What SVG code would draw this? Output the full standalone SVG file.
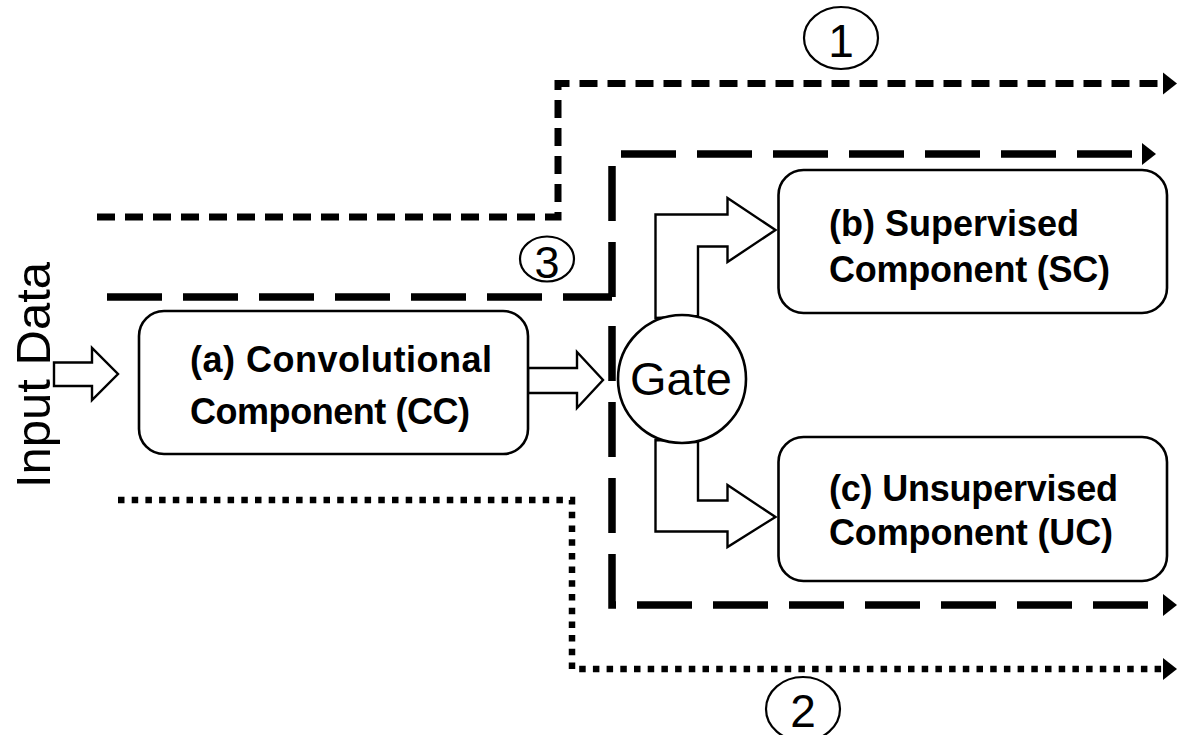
<svg xmlns="http://www.w3.org/2000/svg" width="1177" height="735" viewBox="0 0 1177 735">
  <style>
    .box { fill: #fff; stroke: #000; stroke-width: 2.6; }
    .blk { fill: #fff; stroke: #000; stroke-width: 2.4; stroke-linejoin: miter; }
    .lbl { font-family: "Liberation Sans", Arial, sans-serif; font-weight: bold; font-size: 36px; fill: #000; }
    .reg { font-family: "Liberation Sans", Arial, sans-serif; fill: #000; }
    .num { fill: none; stroke: #000; stroke-width: 2.2; }
    .p1 { fill: none; stroke: #000; stroke-width: 7; stroke-dasharray: 18 10; }
    .p3 { fill: none; stroke: #000; stroke-width: 7.5; stroke-dasharray: 55 21; }
    .p2 { fill: none; stroke: #000; stroke-width: 6.5; stroke-dasharray: 6.5 7.2; }
  </style>
  <defs>
    <marker id="head" markerUnits="userSpaceOnUse" markerWidth="16" markerHeight="24" refX="0" refY="11" orient="auto" overflow="visible">
      <path d="M0,0 L14,11 L0,22 Z" fill="#000"/>
    </marker>
  </defs>

  <!-- data-flow paths -->
  <g id="connectors">
    <!-- path 1: short dashes over the top -->
    <path class="p1" d="M97,217 H558 V83.5 H1163" marker-end="url(#head)"/>
    <!-- path 3: long dashes into the gate region -->
    <path class="p3" d="M107,297 H612"/>
    <path class="p3" d="M612,297 V154 H1142" marker-end="url(#head)"/>
    <path class="p3" d="M612,326 V605 H1163" marker-end="url(#head)"/>
    <!-- path 2: dotted, below everything -->
    <path class="p2" d="M118,500 H572 V669 H1163" marker-end="url(#head)"/>

    <!-- hollow block arrows -->
    <polygon class="blk" points="54,362.5 92,362.5 92,348 118,374 92,400 92,386 54,386"/>
    <polygon class="blk" points="528,368 577,368 577,352 603,380 577,408 577,393 528,393"/>
    <polygon class="blk" points="655.5,318 655.5,214.5 727.5,214.5 727.5,198 775.5,230 727.5,262 727.5,246.5 698,246.5 698,316"/>
    <polygon class="blk" points="655.5,440 655.5,531.5 727.5,531.5 727.5,547 775.5,517 727.5,485 727.5,500.5 698,500.5 698,442"/>
  </g>

  <!-- circled path numbers -->
  <g id="mark1">
    <ellipse class="num" cx="841" cy="38" rx="37" ry="31"/>
    <text class="reg" x="841" y="57" font-size="46" text-anchor="middle">1</text>
  </g>
  <g id="mark3">
    <ellipse class="num" cx="547" cy="259" rx="27" ry="22.5"/>
    <text class="reg" x="547" y="278" font-size="45" text-anchor="middle">3</text>
  </g>
  <g id="mark2">
    <ellipse class="num" cx="803" cy="709" rx="37" ry="32"/>
    <text class="reg" x="803" y="727" font-size="46" text-anchor="middle">2</text>
  </g>

  <!-- input label -->
  <g id="input">
    <text class="reg" font-size="49" text-anchor="middle" transform="translate(50,375) rotate(-90)">Input Data</text>
  </g>

  <!-- components -->
  <g id="cc">
    <rect class="box" x="139" y="311" width="389" height="143" rx="25" ry="25"/>
    <text class="lbl" x="190" y="372" textLength="302">(a) Convolutional</text>
    <text class="lbl" x="190" y="424" textLength="280">Component (CC)</text>
  </g>
  <g id="sc">
    <rect class="box" x="778.5" y="170" width="388.5" height="143" rx="25" ry="25"/>
    <text class="lbl" x="829" y="236" textLength="250">(b) Supervised</text>
    <text class="lbl" x="829" y="282" textLength="281">Component (SC)</text>
  </g>
  <g id="uc">
    <rect class="box" x="778.5" y="437" width="388.5" height="144" rx="25" ry="25"/>
    <text class="lbl" x="829" y="501" textLength="289">(c) Unsupervised</text>
    <text class="lbl" x="829" y="545" textLength="284">Component (UC)</text>
  </g>
  <g id="gate">
    <circle class="box" cx="682" cy="379" r="64"/>
    <text class="reg" x="681" y="395" font-size="47" text-anchor="middle">Gate</text>
  </g>
</svg>
